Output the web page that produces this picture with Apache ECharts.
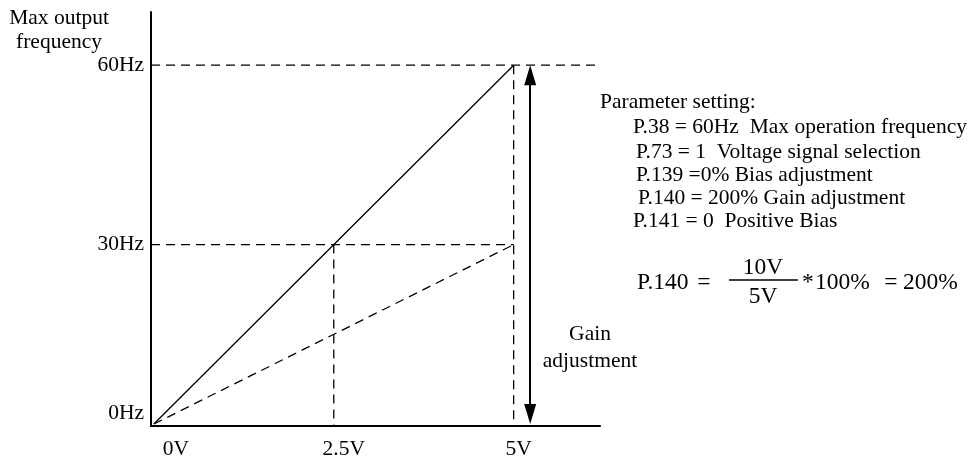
<!DOCTYPE html>
<html><head><meta charset="utf-8">
<script src="https://cdn.jsdelivr.net/npm/echarts@6/dist/echarts.min.js"></script>
<style>html,body{margin:0;padding:0;background:#fff}#c{width:970px;height:462px}</style>
</head><body><div id="c"></div>
<script>
// ---- data ----
var xTicks = [0, 2.5, 5];
var xTickLabels = ['0V', '2.5V', '5V'];
var yTicks = [0, 30, 60];
var yTickLabels = ['0Hz', '30Hz', '60Hz'];
var gainLine = [[0, 0], [5, 60]];        // solid: with 200% gain
var biasLine = [[0, 0], [5, 30]];        // dashed: default
var guide60 = [[-0.04, 60], [6.16, 60]];
var guide30 = [[-0.04, 30], [5, 30]];
var guide25V = [[2.5, 30], [2.5, -0.33]];
var guide5V = [[5, 60], [5, -0.33]];
var arrowX = 5.23, arrowFrom = 0, arrowTo = 60;
var yTitle = 'Max output\nfrequency';
var arrowText = 'Gain\nadjustment';
var paramTitle = 'Parameter setting:';
var paramLines = [
  'P.38 = 60Hz  Max operation frequency',
  'P.73 = 1  Voltage signal selection',
  'P.139 =0% Bias adjustment',
  'P.140 = 200% Gain adjustment',
  'P.141 = 0  Positive Bias'
];

var FONT = 'Liberation Serif';
var FS = 21.5;
var FF = 23.5;
var chart = echarts.init(document.getElementById('c'));

var xPad = {0: 44, 2.5: 20, 5: 10};
function xFmt(v) {
  var i = xTicks.indexOf(v);
  return i < 0 ? '' : '{p' + i + '|' + xTickLabels[i] + '}';
}
function yFmt(v) {
  var i = yTicks.indexOf(v);
  if (i < 0) return '';
  return v === 0 ? '{z|' + yTickLabels[i] + '}' : yTickLabels[i];
}
var xRich = {};
xTicks.forEach(function (t, i) { xRich['p' + i] = {padding: [0, 0, 0, xPad[t]], fontFamily: FONT, fontSize: FS, color: '#000'}; });

function dashSeries(d) {
  return {type: 'line', data: d, symbol: 'none', silent: true,
    lineStyle: {color: '#000', width: 1.3, type: [9, 6]}};
}
function txt(x, y, t, size, align, lh) {
  return {type: 'text', x: x, y: y, style: {text: t, font: size + 'px "' + FONT + '"', fill: '#000',
    align: align || 'left', verticalAlign: 'middle', lineHeight: lh || size}};
}

var paramX = [633, 636, 636, 638, 633];
var paramY = [127, 152, 175, 198, 221];
var graphics = [
  txt(59, 30, yTitle, FS, 'center', 24),
  txt(590, 348, arrowText, FS, 'center', 27),
  txt(600, 102, paramTitle, FS),
  txt(637, 283, 'P.140', FF),
  txt(704, 283, '=', FF, 'center'),
  txt(763, 268, '10V', FF, 'center'),
  {type: 'line', shape: {x1: 729, y1: 280, x2: 798, y2: 280}, style: {stroke: '#000', lineWidth: 1.3}},
  txt(763, 297, '5V', FF, 'center'),
  txt(802, 283, '*', FF),
  txt(815, 283, '100%', FF),
  txt(891, 283, '=', FF, 'center'),
  txt(903, 283, '200%', FF)
];
paramLines.forEach(function (t, i) { graphics.push(txt(paramX[i], paramY[i], t, FS)); });

chart.setOption({
  animation: false,
  backgroundColor: '#fff',
  grid: {left: 151, top: 12, width: 449, height: 414, containLabel: false},
  xAxis: {type: 'value', min: -0.04, max: 6.2,
    axisLine: {show: true, onZero: false, lineStyle: {color: '#000', width: 2}},
    axisTick: {show: false}, splitLine: {show: false},
    axisLabel: {customValues: xTicks, formatter: xFmt, rich: xRich, margin: 12,
      fontFamily: FONT, fontSize: FS, color: '#000', showMinLabel: true, showMaxLabel: true}},
  yAxis: {type: 'value', min: -0.33, max: 68.9,
    axisLine: {show: true, onZero: false, lineStyle: {color: '#000', width: 2}},
    axisTick: {show: false}, splitLine: {show: false},
    axisLabel: {customValues: yTicks, formatter: yFmt, margin: 7,
      fontFamily: FONT, fontSize: FS, color: '#000',
      rich: {z: {padding: [0, 0, 22, 0], fontFamily: FONT, fontSize: FS, color: '#000'}}}},
  graphic: graphics,
  series: [
    {type: 'line', data: gainLine, symbol: 'none', silent: true, lineStyle: {color: '#000', width: 1.3}},
    {type: 'line', data: biasLine, symbol: 'none', silent: true, lineStyle: {color: '#000', width: 1.3, type: [9, 6]}},
    dashSeries(guide60), dashSeries(guide30), dashSeries(guide25V), dashSeries(guide5V),
    {type: 'line', data: [], silent: true,
      markLine: {silent: true, symbol: ['triangle', 'triangle'], symbolSize: [12, 20],
        lineStyle: {color: '#000', width: 2, type: 'solid'}, label: {show: false},
        data: [[{coord: [arrowX, arrowFrom + 1.67]}, {coord: [arrowX, arrowTo - 1.67]}]]}}
  ]
});
</script></body></html>
